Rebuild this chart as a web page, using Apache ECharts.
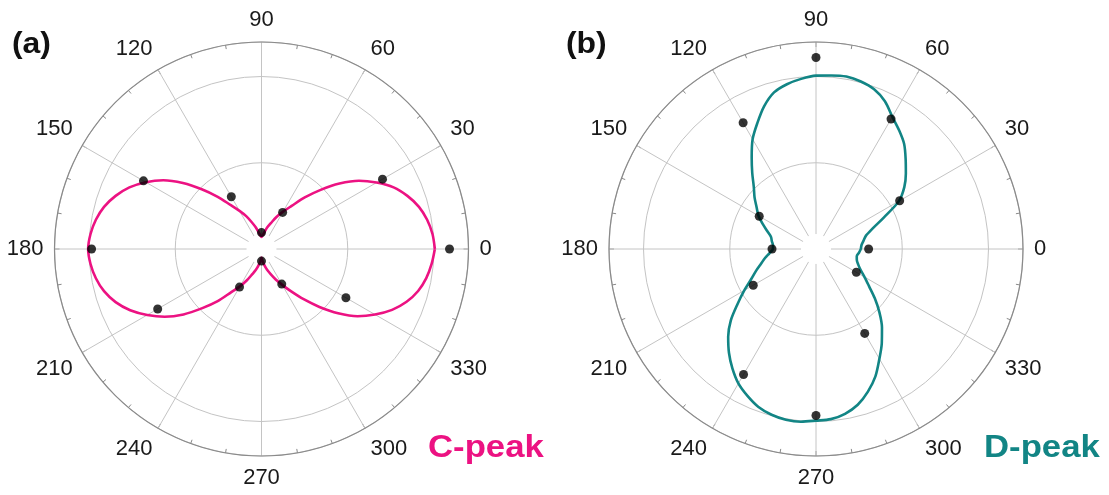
<!DOCTYPE html>
<html>
<head>
<meta charset="utf-8">
<script src="https://cdn.jsdelivr.net/npm/echarts@6/dist/echarts.min.js"></script>
<style>
html,body{margin:0;padding:0;background:#fff;}
#chart{width:1109px;height:495px;}
</style>
</head>
<body>
<div id="chart"></div>
<script>
// Measured dots every 30 degrees
const dotAngles = [0, 30, 60, 90, 120, 150, 180, 210, 240, 270, 300, 330];
const cDots = [2.18, 1.62, 0.49, 0.19, 0.70, 1.58, 1.97, 1.39, 0.51, 0.14, 0.47, 1.13];
const dDots = [0.61, 1.12, 1.74, 2.22, 1.69, 0.76, 0.51, 0.84, 1.68, 1.93, 1.13, 0.54];

// Fitted curves, every 5 degrees
const curveAngles = [0,5,10,15,20,25,30,35,40,45,50,55,60,65,70,75,80,85,
                     90,95,100,105,110,115,120,125,130,135,140,145,150,155,160,165,170,175,
                     180,185,190,195,200,205,210,215,220,225,230,235,240,245,250,255,260,265,
                     270,275,280,285,290,295,300,305,310,315,320,325,330,335,340,345,350,355,360];
const cCurve = [2.01,1.99,1.95,1.89,1.80,1.69,1.54,1.38,1.18,0.97,0.78,0.61,0.50,0.41,0.32,0.26,0.20,0.16,
                0.14,0.16,0.20,0.26,0.33,0.42,0.51,0.62,0.79,0.98,1.19,1.39,1.55,1.69,1.80,1.89,1.95,1.99,
                2.01,1.99,1.95,1.89,1.80,1.68,1.53,1.37,1.18,0.97,0.79,0.61,0.50,0.40,0.31,0.25,0.19,0.14,
                0.10,0.14,0.19,0.25,0.31,0.39,0.48,0.60,0.76,0.95,1.16,1.36,1.52,1.67,1.79,1.88,1.94,1.98,2.01];
const dCurve = [0.52,0.53,0.56,0.60,0.70,0.87,1.11,1.25,1.36,1.47,1.59,1.68,1.77,1.89,1.97,2.01,2.03,2.02,
                2.01,1.98,1.94,1.88,1.76,1.61,1.47,1.30,1.15,1.02,0.93,0.84,0.77,0.68,0.60,0.54,0.52,0.50,
                0.50,0.54,0.60,0.66,0.74,0.83,0.96,1.11,1.29,1.44,1.57,1.69,1.80,1.88,1.95,1.99,2.01,2.01,
                1.99,1.98,1.94,1.87,1.76,1.63,1.47,1.33,1.19,1.04,0.89,0.75,0.65,0.57,0.52,0.49,0.48,0.50,0.52];

const radiusMax = 2.4;
const angleMin = 0, angleMax = 360, angleStep = 30;

const MAGENTA = '#ec1282';
const TEAL = '#128585';
const centers = [[261.5, 249], [816, 249]];
const R = 207;

function angleAxis(i) {
  return {
    polarIndex: i, type: 'value', min: angleMin, max: angleMax, interval: angleStep,
    startAngle: 0, clockwise: false,
    axisLine: { show: true, lineStyle: { color: '#8a8a8a', width: 1.2 } },
    axisTick: { show: true, inside: true, length: 5, lineStyle: { color: '#8a8a8a' } },
    minorTick: { show: true, splitNumber: 3, length: 4, lineStyle: { color: '#8a8a8a' } },
    axisLabel: {
      show: true, margin: 11, color: '#1a1a1a', fontSize: 22,
      fontFamily: 'Liberation Sans, Arial, sans-serif',
      formatter: v => (v === 360 ? '' : String(v))
    },
    splitLine: { show: true, lineStyle: { color: '#c4c4c4', width: 1 } }
  };
}
function radiusAxis(i) {
  return {
    polarIndex: i, type: 'value', min: 0, max: radiusMax, interval: 1,
    axisLine: { show: false }, axisTick: { show: false }, axisLabel: { show: false },
    splitLine: { show: true, lineStyle: { color: '#c4c4c4', width: 1 } }
  };
}

const chart = echarts.init(document.getElementById('chart'), null, { renderer: 'canvas' });
chart.setOption({
  animation: false,
  backgroundColor: '#fff',
  polar: centers.map(c => ({ center: c, radius: R })),
  angleAxis: [angleAxis(0), angleAxis(1)],
  radiusAxis: [radiusAxis(0), radiusAxis(1)],
  graphic: [
    { type: 'circle', z: 1, shape: { cx: centers[0][0], cy: centers[0][1], r: 15 }, style: { fill: '#fff' } },
    { type: 'circle', z: 1, shape: { cx: centers[1][0], cy: centers[1][1], r: 15 }, style: { fill: '#fff' } },
    { type: 'text', z: 5, x: 12, y: 30, scaleX: 1.1,
      style: { text: '(a)', x: 0, y: 0, font: 'bold 29px "Liberation Sans", Arial, sans-serif', fill: '#111', textVerticalAlign: 'top' } },
    { type: 'text', z: 5, x: 566, y: 30, scaleX: 1.1,
      style: { text: '(b)', x: 0, y: 0, font: 'bold 29px "Liberation Sans", Arial, sans-serif', fill: '#111', textVerticalAlign: 'top' } },
    { type: 'text', z: 5, x: 428, y: 433, scaleX: 1.12,
      style: { text: 'C-peak', x: 0, y: 0, font: 'bold 31px "Liberation Sans", Arial, sans-serif', fill: MAGENTA, textVerticalAlign: 'top' } },
    { type: 'text', z: 5, x: 984, y: 433, scaleX: 1.12,
      style: { text: 'D-peak', x: 0, y: 0, font: 'bold 31px "Liberation Sans", Arial, sans-serif', fill: TEAL, textVerticalAlign: 'top' } }
  ],
  series: [
    { type: 'line', coordinateSystem: 'polar', polarIndex: 0, smooth: 0.3, showSymbol: false,
      lineStyle: { color: MAGENTA, width: 2.6 }, z: 3,
      data: curveAngles.map((a, i) => [cCurve[i], a]) },
    { type: 'scatter', coordinateSystem: 'polar', polarIndex: 0, symbolSize: 9,
      itemStyle: { color: '#000' }, z: 4,
      data: dotAngles.map((a, i) => [cDots[i], a]) },
    { type: 'line', coordinateSystem: 'polar', polarIndex: 1, smooth: 0.3, showSymbol: false,
      lineStyle: { color: TEAL, width: 2.6 }, z: 3,
      data: curveAngles.map((a, i) => [dCurve[i], a]) },
    { type: 'scatter', coordinateSystem: 'polar', polarIndex: 1, symbolSize: 9,
      itemStyle: { color: '#000' }, z: 4,
      data: dotAngles.map((a, i) => [dDots[i], a]) }
  ]
});
</script>
</body>
</html>
